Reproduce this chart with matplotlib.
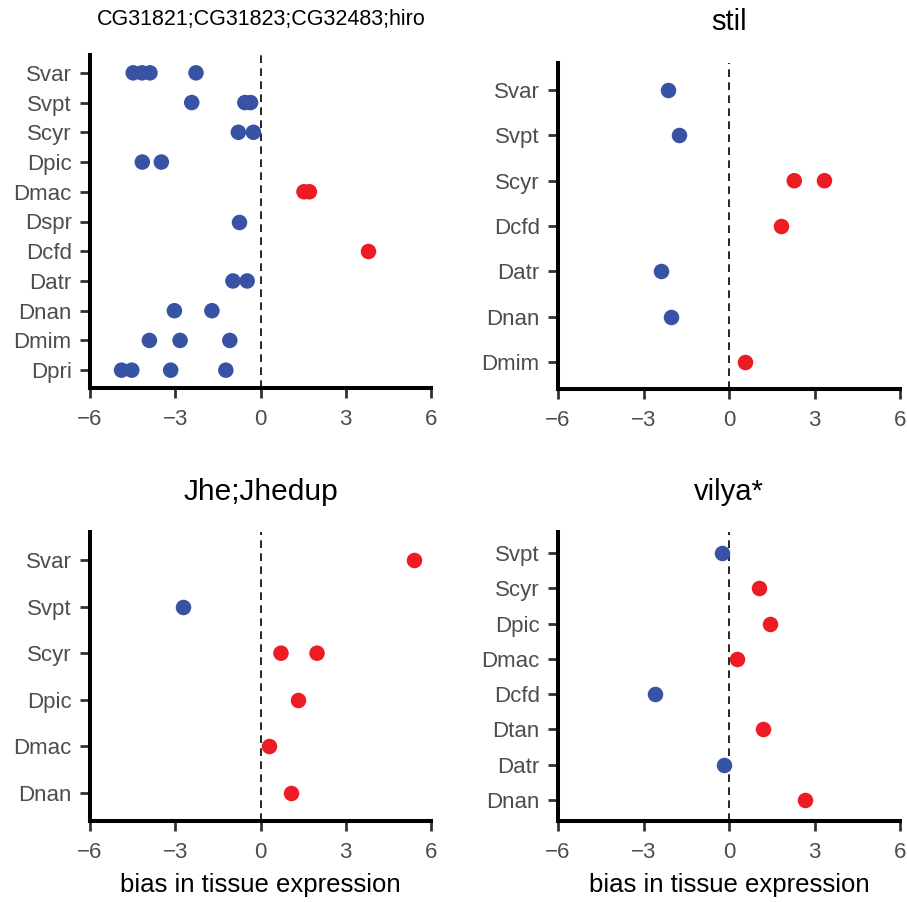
import matplotlib
matplotlib.use("Agg")
import matplotlib.pyplot as plt

plt.rcParams['font.family'] = ['Liberation Sans', 'DejaVu Sans']

# panel titles
titles = ["CG31821;CG31823;CG32483;hiro", "stil", "Jhe;Jhedup", "vilya*"]

# tissues (top to bottom) and bias values per tissue, one list per panel
tissues_hiro = ["Svar", "Svpt", "Scyr", "Dpic", "Dmac", "Dspr", "Dcfd", "Datr", "Dnan", "Dmim", "Dpri"]
bias_hiro = [
    [-4.48, -4.17, -3.89, -2.27],
    [-2.42, -0.55, -0.35],
    [-0.78, -0.25],
    [-4.16, -3.49],
    [1.53, 1.72],
    [-0.76],
    [3.79],
    [-0.97, -0.47],
    [-3.03, -1.71],
    [-3.91, -2.83, -1.08],
    [-4.89, -4.53, -3.16, -1.22],
]

tissues_stil = ["Svar", "Svpt", "Scyr", "Dcfd", "Datr", "Dnan", "Dmim"]
bias_stil = [[-2.15], [-1.75], [2.29, 3.35], [1.83], [-2.38], [-2.04], [0.56]]

tissues_jhe = ["Svar", "Svpt", "Scyr", "Dpic", "Dmac", "Dnan"]
bias_jhe = [[5.39], [-2.74], [0.72, 1.99], [1.33], [0.29], [1.09]]

tissues_vilya = ["Svpt", "Scyr", "Dpic", "Dmac", "Dcfd", "Dtan", "Datr", "Dnan"]
bias_vilya = [[-0.23], [1.07], [1.43], [0.27], [-2.59], [1.21], [-0.16], [2.66]]

x_ticks = [-6, -3, 0, 3, 6]
x_ticklabels = ["\u22126", "\u22123", "0", "3", "6"]

BLUE = "#3953a4"
RED = "#ed1c24"

W, H = 907, 902
fig = plt.figure(figsize=(W / 100, H / 100), dpi=100)


def px_axes(x0, y0, x1, y1):
    return fig.add_axes([x0 / W, 1 - y1 / H, (x1 - x0) / W, (y1 - y0) / H])


def draw_panel(ax, tissues, bias, show_xlabel):
    n = len(tissues)
    for i, vals in enumerate(bias):
        y = n - i
        cols = [RED if v > 0 else BLUE for v in vals]
        ax.scatter(vals, [y] * len(vals), s=125, c=cols, linewidths=0, zorder=3)
    ax.axvline(0, color="black", lw=1.2, ls=(0, (4.6, 3.2)), zorder=2)
    ax.set_xlim(-6, 6)
    ax.set_ylim(0.4, n + 0.6)
    ax.set_yticks(range(n, 0, -1))
    ax.set_yticklabels(tissues)
    ax.set_xticks(x_ticks)
    ax.set_xticklabels(x_ticklabels)
    for s in ["top", "right"]:
        ax.spines[s].set_visible(False)
    for s in ["left", "bottom"]:
        ax.spines[s].set_linewidth(2.9)
        ax.spines[s].set_color("black")
        ax.spines[s].set_capstyle("projecting")
    ax.tick_params(axis="both", length=7.2, width=2.0, color="#333333",
                   labelcolor="#4d4d4d", labelsize=16)
    ax.tick_params(axis="y", pad=6)
    ax.tick_params(axis="x", pad=8)
    if show_xlabel:
        ax.set_xlabel("bias in tissue expression", fontsize=18.5, color="black", labelpad=7)


ax1 = px_axes(90, 55, 431, 388)
ax2 = px_axes(558, 63, 900, 389)
ax3 = px_axes(90, 532, 431, 821)
ax4 = px_axes(558, 532, 900, 821)

draw_panel(ax1, tissues_hiro, bias_hiro, False)
draw_panel(ax2, tissues_stil, bias_stil, False)
draw_panel(ax3, tissues_jhe, bias_jhe, True)
draw_panel(ax4, tissues_vilya, bias_vilya, True)

fig.text(261 / W, 1 - 19 / H, titles[0], ha="center", va="center", fontsize=15.5)
fig.text(729 / W, 1 - 22 / H, titles[1], ha="center", va="center", fontsize=21)
fig.text(261 / W, 1 - 492 / H, titles[2], ha="center", va="center", fontsize=21.5)
fig.text(729 / W, 1 - 492 / H, titles[3], ha="center", va="center", fontsize=21)

fig.savefig("out.png", dpi=100)
